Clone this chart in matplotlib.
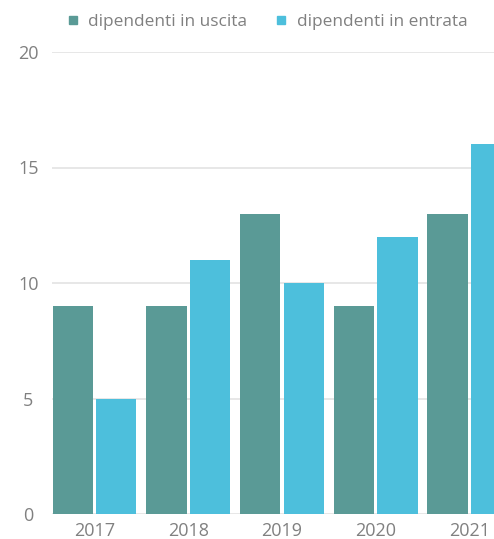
import matplotlib
matplotlib.use("Agg")
import matplotlib.pyplot as plt
from matplotlib.lines import Line2D
import numpy as np

years = ["2017", "2018", "2019", "2020", "2021"]
uscita = [9, 9, 13, 9, 13]
entrata = [5, 11, 10, 12, 16]
series_labels = ["dipendenti in uscita", "dipendenti in entrata"]
yticks = [0, 5, 10, 15, 20]

c_dark = "#5a9a96"
c_light = "#4dbfdc"
txt = "#808080"

plt.rcParams['font.family'] = ['Open Sans', 'DejaVu Sans']

fig = plt.figure(figsize=(4.94, 5.39), dpi=100)
ax = fig.add_axes([52/494, 25/539, 1 - 52/494, (514-52)/539])

x = np.arange(len(years))
w = 0.43
off = 0.2325
ax.bar(x - off, uscita, width=w, color=c_dark, zorder=3)
ax.bar(x + off, entrata, width=w, color=c_light, zorder=3)

ax.set_xlim(-0.4536, 4.2636)
ax.set_ylim(0, 20)
ax.set_yticks(yticks)
ax.set_yticklabels([str(v) for v in yticks])
ax.set_xticks(x)
ax.set_xticklabels(years)

for v in yticks:
    ax.axhline(v, color="#e3e3e3", lw=1.2, zorder=1)

for s in ax.spines.values():
    s.set_visible(False)
ax.tick_params(axis='both', length=0, labelsize=13, colors=txt)
ax.tick_params(axis='x', pad=6)
for lab in ax.get_yticklabels():
    lab.set_horizontalalignment('center')
ax.tick_params(axis='y', pad=17)

fs = 12.4
handles = [Line2D([], [], marker='s', ls='', color=c, markersize=5.5) for c in (c_dark, c_light)]
hl = 0.8
fig.legend(handles, series_labels, ncol=2, loc='center left',
           bbox_to_anchor=((72.5 - hl*fs*100/72/2)/494, 1 - 22/539), frameon=False,
           borderpad=0, borderaxespad=0, handlelength=hl, handletextpad=0.5,
           columnspacing=1.6, fontsize=fs, labelcolor=txt)

fig.savefig("out.png", dpi=100)
